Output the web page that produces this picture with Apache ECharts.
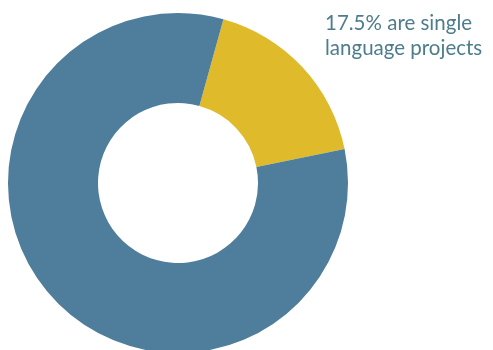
<!DOCTYPE html>
<html>
<head>
<meta charset="utf-8">
<script src="https://cdn.jsdelivr.net/npm/echarts@6/dist/echarts.min.js"></script>
<style>html,body{margin:0;padding:0;background:#fff;}#c{width:493px;height:350px;}</style>
</head>
<body>
<div id="c"></div>
<script>
const categories = ['Single language projects', 'Multi-language projects'];
const values = [17.5, 82.5];
const colors = ['#dfbb2b', '#4f7e9c'];
const annotation = '17.5% are single\nlanguage projects';

const chart = echarts.init(document.getElementById('c'), null, {renderer: 'canvas'});
chart.setOption({
  animation: false,
  backgroundColor: '#ffffff',
  title: {
    text: annotation,
    left: 320,
    top: 6,
    textStyle: {
      color: '#4d7d8c',
      fontFamily: 'Lato',
      fontWeight: 'normal',
      fontSize: 20.5,
      lineHeight: 25
    }
  },
  series: [{
    type: 'pie',
    center: [178, 183],
    radius: [80, 170],
    startAngle: 74.5,
    clockwise: true,
    label: {show: false},
    labelLine: {show: false},
    emphasis: {disabled: true},
    itemStyle: {borderWidth: 0},
    data: categories.map((n, i) => ({name: n, value: values[i], itemStyle: {color: colors[i]}}))
  }]
});
</script>
</body>
</html>
